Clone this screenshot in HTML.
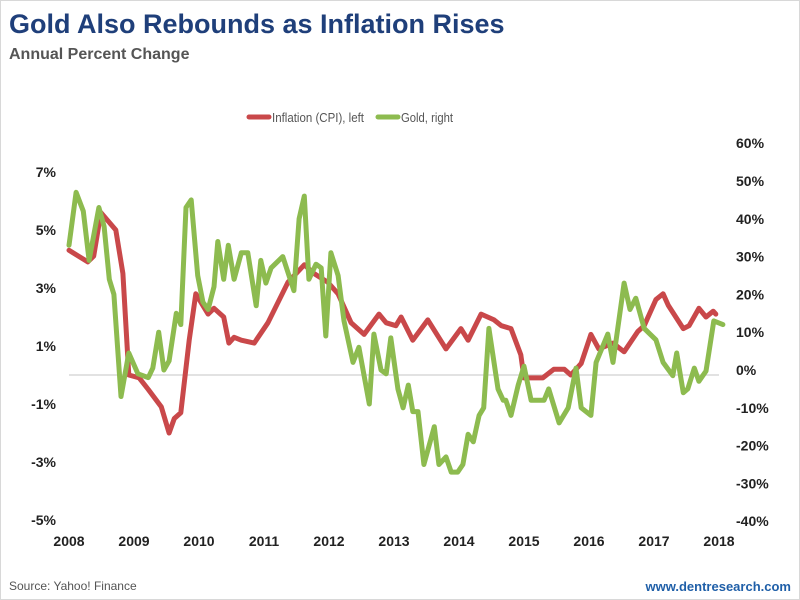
<!DOCTYPE html>
<html><head><meta charset="utf-8"><style>
body{margin:0;background:#fff;font-family:"Liberation Sans",Arial,sans-serif}
#wrap{position:relative;width:798px;height:598px;border:1px solid #d8d8d8;overflow:hidden}
.t{position:absolute;white-space:nowrap}
</style></head><body>
<div id="wrap">
<div class="t" style="left:8px;top:8px;font-size:27px;font-weight:bold;color:#1f3f7a">Gold Also Rebounds as Inflation Rises</div>
<div class="t" style="left:8px;top:45px;font-size:16px;font-weight:bold;color:#555">Annual Percent Change</div>
<svg id="chart" width="800" height="600" style="position:absolute;left:0;top:0"></svg>
<div class="t" style="left:8px;top:578px;font-size:12px;color:#555">Source: Yahoo! Finance</div>
<div class="t" style="right:8px;top:578px;font-size:13px;font-weight:bold;color:#1f5fa8">www.dentresearch.com</div>
</div>
<script>
const leftTicks=[7,5,3,1,-1,-3,-5];
const rightTicks=[60,50,40,30,20,10,0,-10,-20,-30,-40];
const xTicks=[2008,2009,2010,2011,2012,2013,2014,2015,2016,2017,2018];
const cpiDates=[2008.00,2008.29,2008.38,2008.49,2008.72,2008.83,2008.92,2009.08,2009.22,2009.42,2009.54,2009.62,2009.72,2009.85,2009.95,2010.14,2010.23,2010.38,2010.46,2010.54,2010.65,2010.85,2011.06,2011.37,2011.62,2011.77,2011.98,2012.14,2012.34,2012.54,2012.77,2012.88,2013.03,2013.11,2013.29,2013.52,2013.80,2014.03,2014.14,2014.34,2014.54,2014.65,2014.80,2014.95,2015.00,2015.15,2015.29,2015.46,2015.62,2015.72,2015.88,2016.03,2016.15,2016.37,2016.54,2016.75,2016.85,2017.03,2017.14,2017.22,2017.45,2017.54,2017.69,2017.80,2017.91,2017.95];
const cpiValues=[4.3,3.9,4.1,5.6,5.0,3.5,0,-0.1,-0.5,-1.1,-2.0,-1.5,-1.3,1.2,2.8,2.1,2.3,2.0,1.1,1.3,1.2,1.1,1.8,3.2,3.8,3.5,3.2,2.8,1.8,1.4,2.1,1.8,1.7,2.0,1.2,1.9,0.9,1.6,1.2,2.1,1.9,1.7,1.6,0.7,-0.1,-0.1,-0.1,0.2,0.2,0,0.4,1.4,0.9,1.1,0.8,1.5,1.7,2.6,2.8,2.4,1.6,1.7,2.3,2.0,2.2,2.1];
const goldDates=[2008.00,2008.11,2008.22,2008.31,2008.46,2008.54,2008.62,2008.69,2008.80,2008.92,2009.06,2009.22,2009.29,2009.38,2009.46,2009.54,2009.65,2009.72,2009.80,2009.88,2009.98,2010.06,2010.14,2010.23,2010.29,2010.38,2010.45,2010.54,2010.65,2010.75,2010.88,2010.95,2011.03,2011.11,2011.29,2011.46,2011.54,2011.62,2011.69,2011.80,2011.88,2011.95,2012.03,2012.14,2012.23,2012.37,2012.46,2012.62,2012.69,2012.80,2012.88,2012.95,2013.06,2013.14,2013.22,2013.29,2013.37,2013.46,2013.62,2013.69,2013.80,2013.88,2013.98,2014.06,2014.14,2014.22,2014.31,2014.38,2014.46,2014.60,2014.68,2014.72,2014.80,2014.91,2015.00,2015.11,2015.31,2015.38,2015.54,2015.68,2015.80,2015.88,2016.03,2016.11,2016.29,2016.37,2016.54,2016.63,2016.72,2016.85,2017.03,2017.14,2017.29,2017.35,2017.45,2017.52,2017.62,2017.69,2017.80,2017.92,2018.06];
const goldValues=[33,47,42,29,43,38,24,20,-7,4.5,-1,-2,0.5,10,0,2.4,15,12,43,45,25,18,16,22,34,24,33,24,31,31,17,29,23,27,30,21,40,46,24,28,27,9,31,25,13,2,6,-9,9.5,0,-1,8.5,-5,-10,-4,-11,-11,-25,-15,-25,-23,-27,-27,-25,-17,-19,-12,-10,11,-5,-8,-8,-12,-4,1,-8,-8,-5,-14,-10,0.5,-10,-12,2,9.5,2,23,16,19,11,8,2,-1.5,4.5,-6,-5,0.5,-3,-0.3,13,12];
const NS='http://www.w3.org/2000/svg';
const svg=document.getElementById('chart');
const X=y=>68+(y-2008)*65;
const YL=v=>374-v*29;
const YR=v=>369-v*3.78;
function mk(tag,attrs){const e=document.createElementNS(NS,tag);for(const k in attrs)e.setAttribute(k,attrs[k]);svg.appendChild(e);return e;}
const zl=mk('line',{x1:68,x2:718,y1:YL(0),y2:YL(0),stroke:'#d9d9d9','stroke-width':1.5});


leftTicks.forEach(v=>{const t=mk('text',{x:55,y:YL(v)+5,'text-anchor':'end','font-size':14,'font-weight':'bold',fill:'#222','font-family':'Liberation Sans'});t.textContent=v+'%';

});
rightTicks.forEach(v=>{const t=mk('text',{x:735,y:YR(v)+5,'text-anchor':'start','font-size':14,'font-weight':'bold',fill:'#222','font-family':'Liberation Sans'});t.textContent=v+'%';

});
xTicks.forEach(v=>{const t=mk('text',{x:X(v),y:545,'text-anchor':'middle','font-size':14,'font-weight':'bold',fill:'#222','font-family':'Liberation Sans'});t.textContent=v;

});
function line(d,v,sc,col,name){const p=d.map((x,i)=>(i?'L':'M')+X(x).toFixed(1)+','+sc(v[i]).toFixed(1)).join('');
const e=mk('path',{d:p,fill:'none',stroke:col,'stroke-width':5,'stroke-linejoin':'round','stroke-linecap':'round'});

}
line(cpiDates,cpiValues,YL,'#c9484a','inflation-line');
line(goldDates,goldValues,YR,'#8dbb4f','gold-line');
const lg=[['#c9484a','Inflation (CPI), left',248,92,'legend-inflation'],['#8dbb4f','Gold, right',377,52,'legend-gold']];
lg.forEach(([c,txt,x,w,n])=>{const l=mk('line',{x1:x,x2:x+20,y1:116,y2:116,stroke:c,'stroke-width':5,'stroke-linecap':'round'});


const t=mk('text',{x:x+23,y:121,'font-size':13,fill:'#555','font-family':'Liberation Sans',textLength:w,lengthAdjust:'spacingAndGlyphs'});t.textContent=txt;

});
</script>
</body></html>
